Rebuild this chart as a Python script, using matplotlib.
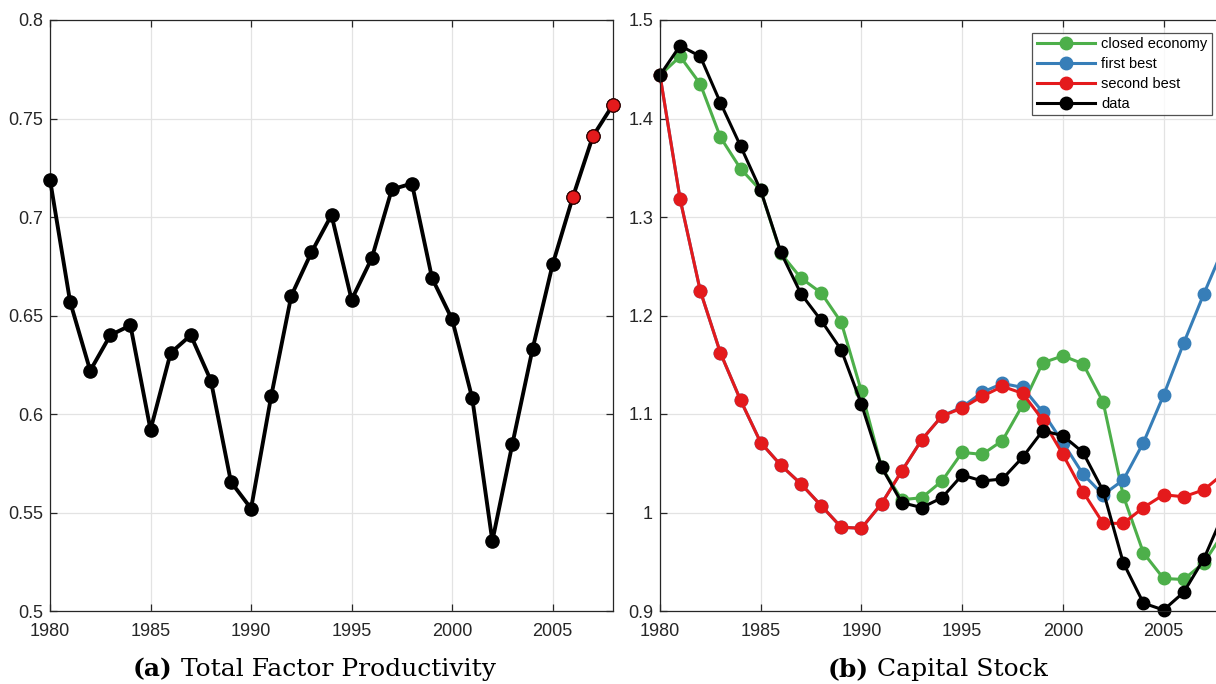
import matplotlib

matplotlib.use("Agg")

import matplotlib.pyplot as plt
import numpy as np

years = np.arange(1980, 2009)

# total factor productivity (last three years are projections, red markers)
tfp = [0.719, 0.657, 0.622, 0.640, 0.645, 0.592, 0.631, 0.640, 0.617, 0.5655,
       0.552, 0.609, 0.660, 0.682, 0.701, 0.658, 0.679, 0.714, 0.717, 0.669,
       0.648, 0.608, 0.5355, 0.585, 0.633, 0.676, 0.710, 0.741, 0.757]
n_proj = 3

# capital stock
closed_economy = [1.444, 1.463, 1.435, 1.381, 1.349, 1.327, 1.263, 1.238, 1.223, 1.193,
                  1.123, 1.046, 1.013, 1.015, 1.032, 1.061, 1.059, 1.073, 1.109, 1.152,
                  1.159, 1.151, 1.112, 1.017, 0.959, 0.933, 0.932, 0.949, 0.980]
first_best = [1.444, 1.318, 1.225, 1.162, 1.114, 1.071, 1.048, 1.029, 1.007, 0.985,
              0.984, 1.009, 1.042, 1.074, 1.098, 1.107, 1.122, 1.131, 1.127, 1.102,
              1.071, 1.039, 1.018, 1.033, 1.071, 1.119, 1.172, 1.222, 1.270]
second_best = [1.444, 1.318, 1.225, 1.162, 1.114, 1.071, 1.048, 1.029, 1.007, 0.985,
               0.984, 1.009, 1.042, 1.074, 1.098, 1.106, 1.118, 1.128, 1.121, 1.094,
               1.059, 1.021, 0.989, 0.989, 1.005, 1.018, 1.016, 1.023, 1.040]
capital_data = [1.444, 1.474, 1.463, 1.416, 1.372, 1.327, 1.264, 1.222, 1.195, 1.165,
                1.110, 1.046, 1.010, 1.005, 1.015, 1.038, 1.032, 1.034, 1.056, 1.083,
                1.078, 1.061, 1.022, 0.949, 0.908, 0.901, 0.919, 0.953, 1.000]

series = [
    ("closed economy", closed_economy, "#4daf4a"),
    ("first best", first_best, "#377eb8"),
    ("second best", second_best, "#e41a1c"),
    ("data", capital_data, "black"),
]

plt.rcParams["font.family"] = ["Liberation Sans", "DejaVu Sans"]

W, H = 1216, 684
fig = plt.figure(figsize=(W / 100, H / 100), dpi=100)


def px_axes(left, right, top, bottom):
    return fig.add_axes([left / W, 1 - bottom / H, (right - left) / W, (bottom - top) / H])


def matlab_style(ax):
    ax.grid(True, color="#e3e3e3", linewidth=0.9)
    ax.set_axisbelow(True)
    for s in ax.spines.values():
        s.set_color("#262626")
        s.set_linewidth(0.9)
    ax.tick_params(direction="in", length=5, width=0.9, top=True, right=True,
                   labelsize=13, colors="#262626")
    ax.tick_params(axis="x", pad=9)
    ax.tick_params(axis="y", pad=5)


# (a) TFP
ax1 = px_axes(50, 613, 20, 611)
ax1.plot(years, tfp, color="black", linewidth=2.8, marker="o", markersize=9.5,
         markerfacecolor="black", markeredgecolor="black", zorder=3, clip_on=False)
ax1.plot(years[-n_proj:], tfp[-n_proj:], linestyle="none", marker="o", markersize=9.5,
         markerfacecolor="#e41a1c", markeredgecolor="#3a0000", markeredgewidth=0.8,
         zorder=4, clip_on=False)
ax1.set_xlim(1980, 2008)
ax1.set_ylim(0.5, 0.8)
ax1.set_xticks([1980, 1985, 1990, 1995, 2000, 2005])
ax1.set_yticks([0.5, 0.55, 0.6, 0.65, 0.7, 0.75, 0.8])
ax1.set_yticklabels(["0.5", "0.55", "0.6", "0.65", "0.7", "0.75", "0.8"])
matlab_style(ax1)

# (b) capital stock -- axes runs past the right edge like the original crop
ax2 = px_axes(660, 1224, 20, 611)
for name, vals, col in series:
    ax2.plot(years, vals, color=col, linewidth=2.2, marker="o", markersize=9,
             markerfacecolor=col, markeredgecolor=col, label=name, clip_on=False)
ax2.set_xlim(1980, 2008)
ax2.set_ylim(0.9, 1.5)
ax2.set_xticks([1980, 1985, 1990, 1995, 2000, 2005])
ax2.set_yticks([0.9, 1.0, 1.1, 1.2, 1.3, 1.4, 1.5])
ax2.set_yticklabels(["0.9", "1", "1.1", "1.2", "1.3", "1.4", "1.5"])
matlab_style(ax2)
leg = ax2.legend(loc="upper right", bbox_to_anchor=(0.978, 0.978), fontsize=10.5,
                 frameon=True, fancybox=False, edgecolor="#262626", borderpad=0.3,
                 labelspacing=0.4, handlelength=4.0, handletextpad=0.4,
                 borderaxespad=0.0)
leg.get_frame().set_linewidth(0.9)

# captions under each panel
serif = ["DejaVu Serif"]
for x0, tag, title in [(133, "(a)", "Total Factor Productivity"), (828, "(b)", "Capital Stock")]:
    t1 = fig.text(x0 / W, 8 / H, tag, fontsize=18, fontweight="bold", family=serif,
                  va="baseline", ha="left")
    fig.canvas.draw()
    bb = t1.get_window_extent()
    fig.text((bb.x1 + 8) / W, 8 / H, title, fontsize=18, family=serif,
             va="baseline", ha="left")

fig.savefig("out.png", dpi=100)
